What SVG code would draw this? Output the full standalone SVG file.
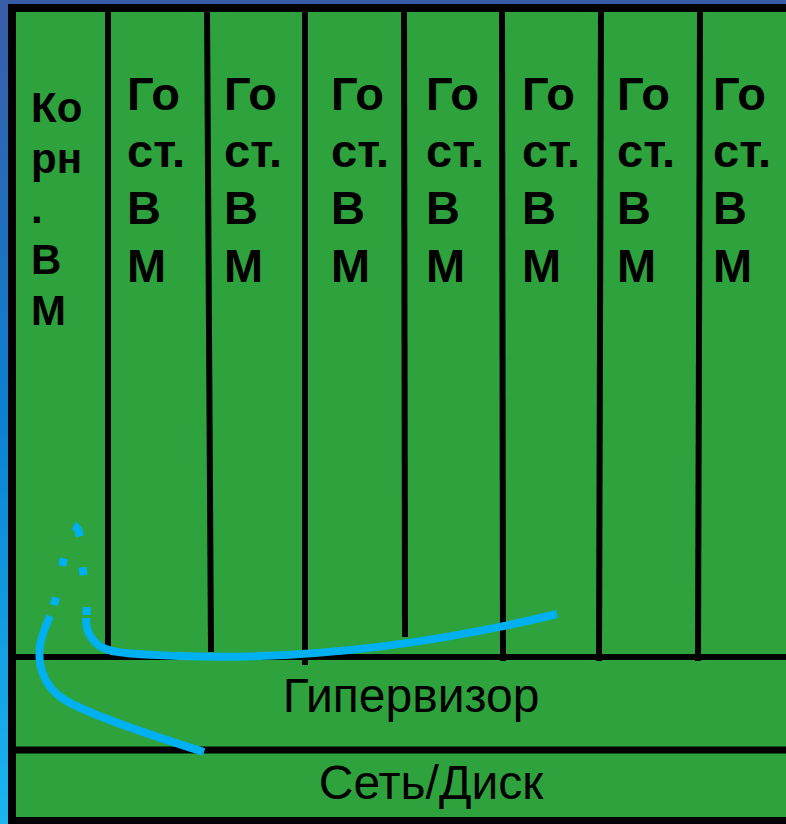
<svg xmlns="http://www.w3.org/2000/svg" width="786" height="824" viewBox="0 0 786 824">
  <defs>
    <linearGradient id="bg" x1="0" y1="0" x2="0" y2="1">
      <stop offset="0" stop-color="#3a5ca8"/>
      <stop offset="0.5" stop-color="#0b80cf"/>
      <stop offset="1" stop-color="#1ab6ef"/>
    </linearGradient>
  </defs>
  <style>
    .frame { fill: #2ea33d; stroke: #000; stroke-width: 8; }
    .sep { stroke: #000; stroke-width: 6; fill: none; }
    .vm { font-family: "Liberation Sans", Arial, sans-serif; font-weight: bold; font-size: 47px; fill: #000; }
    .root { font-family: "Liberation Sans", Arial, sans-serif; font-weight: bold; font-size: 42px; fill: #000; }
    .layer { font-family: "Liberation Sans", Arial, sans-serif; font-size: 48px; fill: #000; text-anchor: middle; }
    .flow { fill: none; stroke: #00b0f0; stroke-width: 8; }
    .flow-dash { fill: none; stroke: #00b0f0; stroke-width: 8; stroke-dasharray: 8 32 8 31 13 36 8 32 8 60; stroke-dashoffset: -3; }
  </style>

  <!-- backdrop -->
  <rect x="0" y="0" width="786" height="824" fill="url(#bg)"/>

  <!-- outer frame -->
  <rect class="frame" x="12" y="8" width="800" height="813"/>

  <!-- column and layer separators -->
  <g id="separators">
    <line class="sep" x1="108" y1="8" x2="108" y2="648"/>
    <line class="sep" x1="207" y1="8" x2="211" y2="652"/>
    <line class="sep" x1="305" y1="8" x2="305" y2="665"/>
    <line class="sep" x1="404" y1="8" x2="405" y2="637"/>
    <line class="sep" x1="502" y1="8" x2="503" y2="661"/>
    <line class="sep" x1="601" y1="8" x2="599" y2="661"/>
    <line class="sep" x1="700" y1="8" x2="698" y2="661"/>
    <line class="sep" x1="12" y1="657" x2="786" y2="657"/>
    <line class="sep" x1="12" y1="750" x2="786" y2="750" style="stroke-width:7"/>
  </g>

  <!-- root VM -->
  <g id="root-vm" class="root">
    <text x="31" y="122">Ко</text>
    <text x="31" y="173">рн</text>
    <text x="31" y="223">.</text>
    <text x="31" y="274">В</text>
    <text x="31" y="325">М</text>
  </g>

  <!-- guest VMs -->
  <g id="guest-vm-1" class="vm">
    <text x="127" y="110">Го</text><text x="127" y="167">ст.</text><text x="127" y="224">В</text><text x="127" y="282">М</text>
  </g>
  <g id="guest-vm-2" class="vm">
    <text x="224" y="110">Го</text><text x="224" y="167">ст.</text><text x="224" y="224">В</text><text x="224" y="282">М</text>
  </g>
  <g id="guest-vm-3" class="vm">
    <text x="331" y="110">Го</text><text x="331" y="167">ст.</text><text x="331" y="224">В</text><text x="331" y="282">М</text>
  </g>
  <g id="guest-vm-4" class="vm">
    <text x="426" y="110">Го</text><text x="426" y="167">ст.</text><text x="426" y="224">В</text><text x="426" y="282">М</text>
  </g>
  <g id="guest-vm-5" class="vm">
    <text x="522" y="110">Го</text><text x="522" y="167">ст.</text><text x="522" y="224">В</text><text x="522" y="282">М</text>
  </g>
  <g id="guest-vm-6" class="vm">
    <text x="617" y="110">Го</text><text x="617" y="167">ст.</text><text x="617" y="224">В</text><text x="617" y="282">М</text>
  </g>
  <g id="guest-vm-7" class="vm">
    <text x="713" y="110">Го</text><text x="713" y="167">ст.</text><text x="713" y="224">В</text><text x="713" y="282">М</text>
  </g>

  <!-- lower layers -->
  <g id="hypervisor">
    <text class="layer" x="411" y="712">Гипервизор</text>
  </g>
  <g id="net-disk">
    <text class="layer" x="431" y="799">Сеть/Диск</text>
  </g>

  <!-- request path: guest → hypervisor → root VM → net/disk -->
  <g id="connectors">
    <path class="flow" d="M557,614 C430,645 300,660 180,656 C120,654 104,652 96,643 C88,635 86,628 86,618"/>
    <path class="flow-dash" d="M86,618 L87,607 L83,571 L81,545 Q80,526 72,525 L63,562 L55,601 L50,617"/>
    <path class="flow" d="M50,616 C46,625 42,635 40,645 C38,660 40,685 65,700 C90,715 150,735 204,752"/>
  </g>
</svg>
